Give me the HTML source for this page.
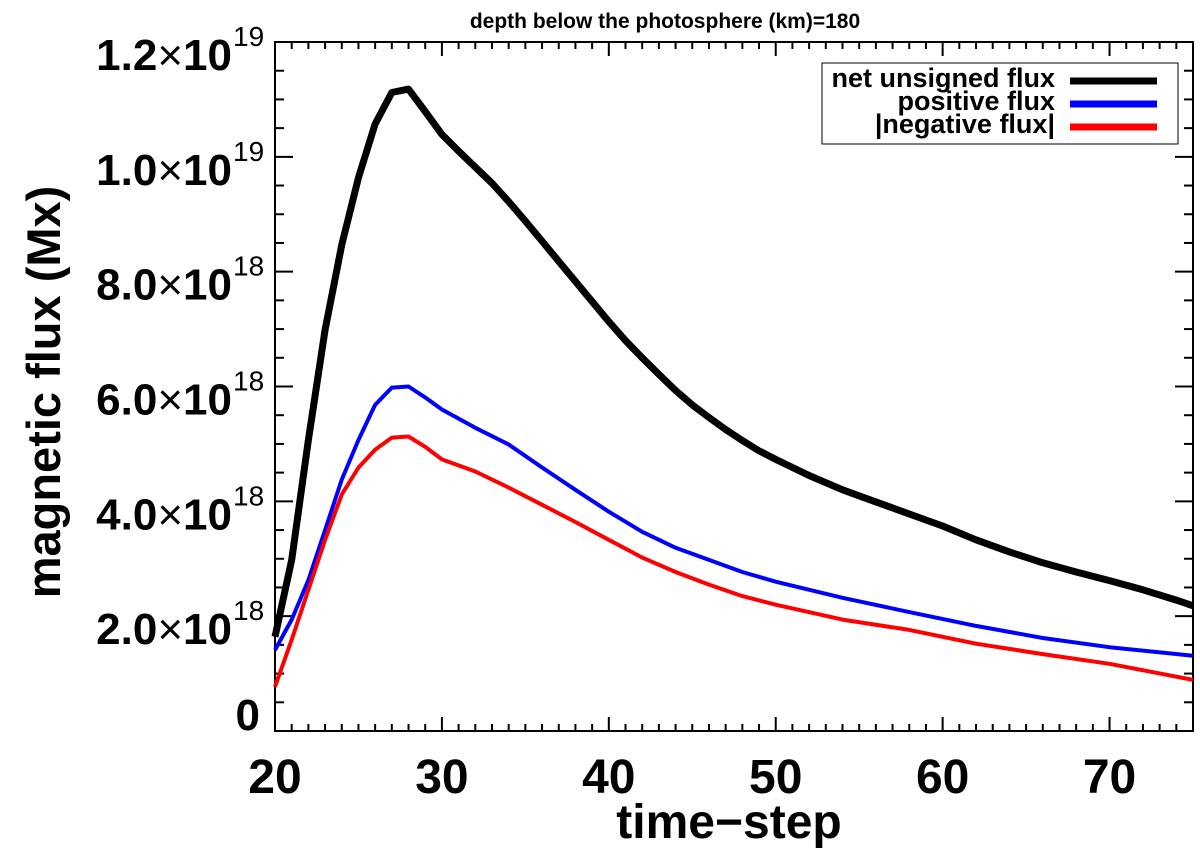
<!DOCTYPE html>
<html><head><meta charset="utf-8"><style>
body{margin:0;background:#fff}
svg{display:block;font-family:"Liberation Sans",sans-serif;font-weight:bold}
</style></head><body>
<svg id="chart" width="1200" height="861" viewBox="0 0 1200 861">
<text x="665" y="28" font-size="21" text-anchor="middle">depth below the photosphere (km)=180</text>
<g id="axes"></g>
<g id="series"></g>
<text x="729" y="838" font-size="48" text-anchor="middle">time−step</text>
<text transform="translate(60,392) rotate(-90)" font-size="47" text-anchor="middle">magnetic flux (Mx)</text>
<g>
<rect x="822" y="63" width="356" height="81" fill="#fff" stroke="#000" stroke-width="1"/>
<text x="1055" y="87" font-size="27" text-anchor="end">net unsigned flux</text>
<line x1="1070" y1="81" x2="1157" y2="81" stroke="#000" stroke-width="7"/>
<text x="1055" y="110" font-size="27" text-anchor="end">positive flux</text>
<line x1="1070" y1="104" x2="1157" y2="104" stroke="#0000ff" stroke-width="7"/>
<text x="1055" y="133" font-size="27" text-anchor="end">|negative flux|</text>
<line x1="1070" y1="127" x2="1157" y2="127" stroke="#ff0000" stroke-width="7"/>
</g>
</svg>
<script>
const netT=[20,21,22,23,24,25,26,27,28,29,30,31,32,33,34,35,36,37,38,39,40,41,42,43,44,45,46,47,48,49,50,52,54,56,58,60,62,64,66,68,70,72,74,75];
const netV=[1.64,2.98,5.07,6.99,8.47,9.64,10.57,11.12,11.18,10.79,10.39,10.10,9.82,9.54,9.22,8.88,8.53,8.18,7.83,7.48,7.13,6.80,6.50,6.21,5.93,5.68,5.46,5.25,5.06,4.88,4.73,4.45,4.20,3.99,3.78,3.57,3.33,3.12,2.93,2.77,2.62,2.46,2.28,2.18];
const posT=[20,21,22,23,24,25,26,27,28,29,30,32,34,36,38,40,42,44,46,48,50,54,58,62,66,70,75];
const posV=[1.41,1.94,2.63,3.50,4.38,5.07,5.68,5.98,6.00,5.81,5.60,5.28,4.99,4.59,4.20,3.82,3.47,3.19,2.98,2.77,2.60,2.32,2.07,1.83,1.62,1.46,1.31];
const negT=[20,21,22,23,24,25,26,27,28,29,30,32,34,36,38,40,42,44,46,48,50,54,58,62,66,70,75];
const negV=[0.77,1.59,2.46,3.33,4.12,4.59,4.90,5.11,5.13,4.95,4.73,4.52,4.24,3.94,3.64,3.33,3.02,2.77,2.55,2.35,2.20,1.94,1.76,1.52,1.34,1.17,0.89];
const xTicks=[20,30,40,50,60,70];
const yTicks=[0,2,4,6,8,10,12];
const yTickMant=["","2.0","4.0","6.0","8.0","1.0","1.2"];
const yTickExp=["","18","18","18","18","19","19"];

const NS="http://www.w3.org/2000/svg";
const L=275,R=1193,T=42,B=731;
const xs=t=>L+(t-20)/55*(R-L);
const ys=v=>B-v/12*(B-T);
function mk(tag,attrs,parent){const e=document.createElementNS(NS,tag);for(const k in attrs)e.setAttribute(k,attrs[k]);parent.appendChild(e);return e;}
const ax=document.getElementById('axes');
const frame=mk('rect',{x:L,y:T,width:R-L,height:B-T,fill:'none',stroke:'#000','stroke-width':2},ax);


for(let t=20;t<=75;t++){
  const len=(t%10===0)?14:7;
  const x=xs(t);
  const a=mk('line',{x1:x,y1:B,x2:x,y2:B-len,stroke:'#000','stroke-width':2},ax);
  
  
  const b=mk('line',{x1:x,y1:T,x2:x,y2:T+len,stroke:'#000','stroke-width':2},ax);
  
  
}
for(let v=0;v<=12;v+=0.5){
  const len=(v%2===0)?18:9;
  const y=ys(v);
  const a=mk('line',{x1:L,y1:y,x2:L+len,y2:y,stroke:'#000','stroke-width':2},ax);
  
  
  const b=mk('line',{x1:R,y1:y,x2:R-len,y2:y,stroke:'#000','stroke-width':2},ax);
  
  
}
xTicks.forEach(t=>{
  const e=mk('text',{x:xs(t),y:793,'font-size':48,'text-anchor':'middle'},ax);
  e.textContent=t;
  
  
});
yTicks.forEach((v,i)=>{
  if(i===0){
    const z=mk('text',{x:260,y:730,'font-size':44,'text-anchor':'end'},ax);
    z.textContent="0";
    
    
    return;
  }
  const yy=ys(v)+28;
  const e=mk('text',{x:232,y:yy,'font-size':44,'text-anchor':'end'},ax);
  const m1=mk('tspan',{},e);m1.textContent=yTickMant[i];
  const m2=mk('tspan',{'font-weight':'normal'},e);m2.textContent="×";
  const m3=mk('tspan',{},e);m3.textContent="10";
  
  
  const s=mk('text',{x:233,y:yy-24,'font-size':28,'text-anchor':'start','font-weight':'normal'},ax);
  s.textContent=yTickExp[i];
  
  
});
const sg=document.getElementById('series');
function line(T_,V_,color,w,name){
  const d=T_.map((t,i)=>(i?'L':'M')+xs(t).toFixed(1)+','+ys(V_[i]).toFixed(1)).join('');
  const p=mk('path',{d:d,fill:'none',stroke:color,'stroke-width':w,'stroke-linejoin':'round'},sg);
  
  
}
line(netT,netV,'#000',7,'net-unsigned-flux-line');
line(posT,posV,'#0000ff',4,'positive-flux-line');
line(negT,negV,'#ff0000',4,'negative-flux-line');
</script>
</body></html>
